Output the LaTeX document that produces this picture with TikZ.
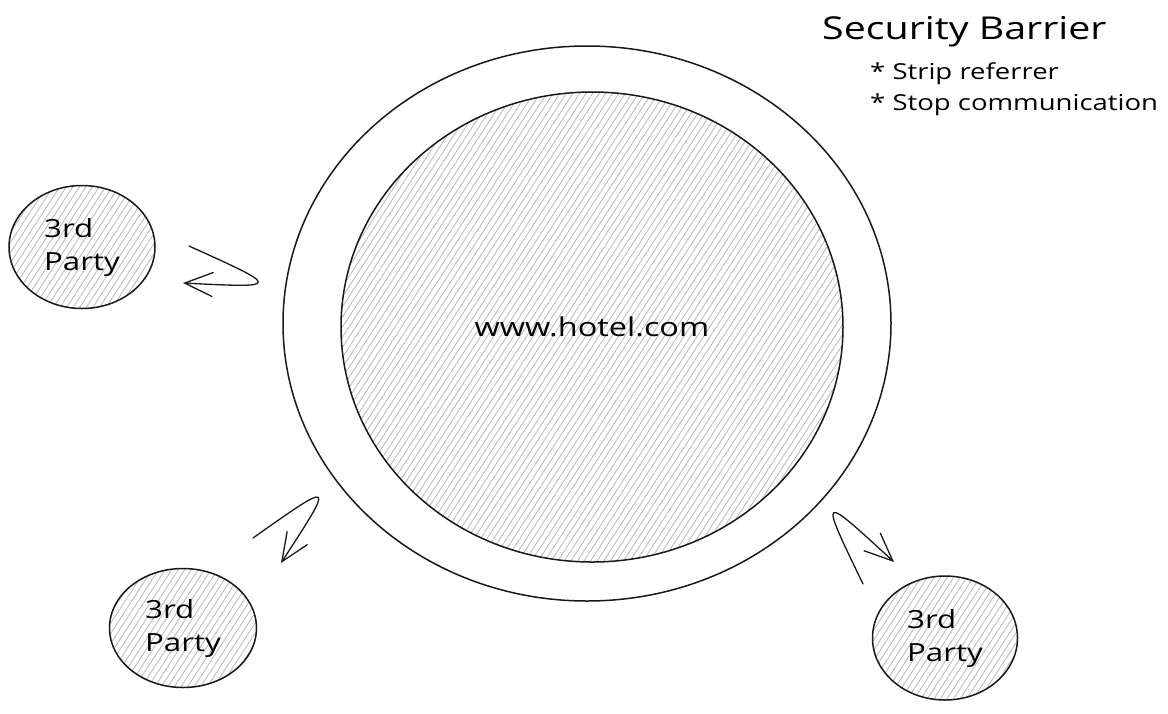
\documentclass[tikz,border=0pt]{standalone}
\usepackage{fontspec}
\setmainfont[FakeStretch=1.25]{Open Sans}
\usetikzlibrary{shapes.geometric,patterns.meta,arrows.meta}
\begin{document}
\begin{tikzpicture}[x=1pt,y=-1pt,
  hatch/.style={pattern={Lines[angle=57,distance=5.5pt,line width=0.9pt]},pattern color=black!26},
  ink/.style={draw=black!90,line width=1.5pt},
  party/.style={ellipse,ink,hatch,inner sep=0pt,minimum width=146pt,minimum height=123pt,align=left,font=\fontsize{25}{33}\selectfont},
  flow/.style={ink,line width=1.3pt,line cap=round,-{Straight Barb[length=28pt,width=24pt,line cap=round]}},
  note/.style={anchor=base west,inner sep=0pt,font=\fontsize{22}{26}\selectfont},
]
\fill[white] (0,0) rectangle (1168,713);
\useasboundingbox (0,0) rectangle (1168,713);

\node[ellipse,ink,minimum width=608pt,minimum height=555pt,inner sep=0pt] (barrier) at (587,323.5) {};
\node[ellipse,ink,hatch,minimum width=502pt,minimum height=470pt,inner sep=0pt,font=\fontsize{26}{30}\selectfont] (site) at (592,327) {www.hotel.com};

\node[party] (p1) at (82,247) {3rd\\Party};
\node[party,minimum width=147pt,minimum height=119pt] (p2) at (183,628) {3rd\\Party};
\node[party,minimum width=145pt,minimum height=124pt] (p3) at (945,638) {3rd\\Party};

\node[anchor=base west,inner sep=0pt,font=\fontsize{31.5}{34}\selectfont] (title) at (822,39) {Security Barrier};
\node[note] (b1) at (870,79) {* Strip referrer};
\node[note] (b2) at (870,110) {* Stop communication};

\coordinate (a1s) at (189,246); \coordinate (a1c) at (282,288); \coordinate (a1e) at (183,283);
\coordinate (a2s) at (253,538); \coordinate (a2c) at (335,480); \coordinate (a2e) at (281,563);
\coordinate (a3s) at (863,584); \coordinate (a3c) at (819,493); \coordinate (a3e) at (894,562);
\draw[flow] (a1s) .. controls (a1c) .. (a1e);
\draw[flow] (a2s) .. controls (a2c) .. (a2e);
\draw[flow] (a3s) .. controls (a3c) .. (a3e);
\end{tikzpicture}
\end{document}
